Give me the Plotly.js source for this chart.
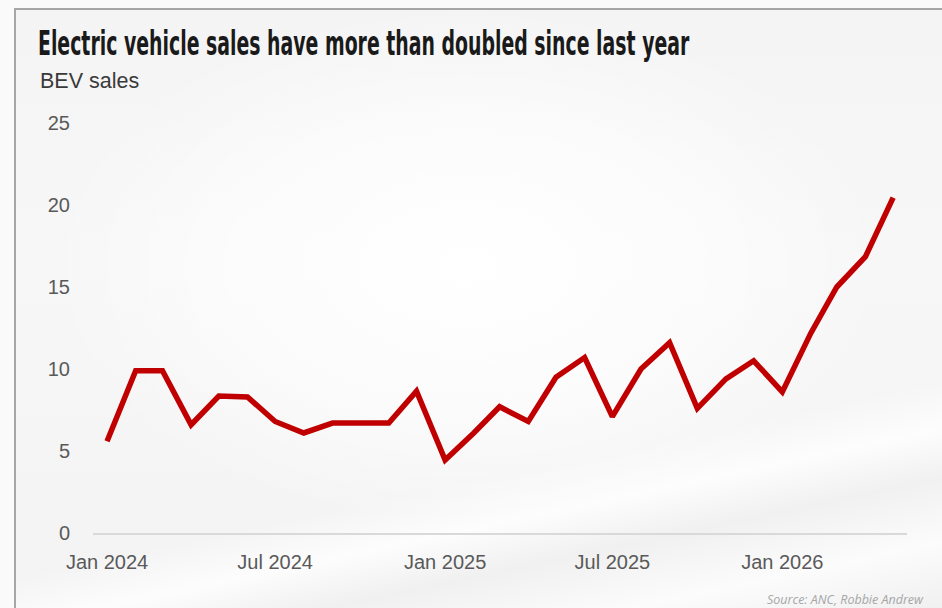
<!DOCTYPE html>
<html>
<head>
<meta charset="utf-8">
<script src="https://cdn.plot.ly/plotly-3.0.1.min.js"></script>
<style>
  html, body { margin: 0; padding: 0; background: #fafafa; }
  #wrap { position: relative; width: 942px; height: 608px; overflow: hidden; background: #fafafa; }
  #card {
    position: absolute; left: 14px; top: 8px; width: 940px; height: 610px;
    border-top: 2px solid #a6a6a6; border-left: 2px solid #a6a6a6;
    background:
      radial-gradient(ellipse 420px 260px at 48% 42%, rgba(255,255,255,1) 0%, rgba(255,255,255,0.6) 55%, rgba(255,255,255,0) 100%),
      linear-gradient(168deg, rgba(255,255,255,0) 70%, rgba(255,255,255,0.8) 76%, rgba(238,238,238,0.6) 82%, rgba(255,255,255,0.7) 90%, rgba(236,236,236,0.8) 100%),
      linear-gradient(180deg, #f4f4f4 0%, #f7f7f7 40%, #f3f3f3 100%);
  }
  #chart { position: absolute; left: 0; top: 0; width: 942px; height: 608px; }
</style>
</head>
<body>
<div id="wrap">
  <div id="card"></div>
  <div id="chart"></div>
</div>
<script>
// Data
const months = [
  "2024-01-01","2024-02-01","2024-03-01","2024-04-01","2024-05-01","2024-06-01",
  "2024-07-01","2024-08-01","2024-09-01","2024-10-01","2024-11-01","2024-12-01",
  "2025-01-01","2025-02-01","2025-03-01","2025-04-01","2025-05-01","2025-06-01",
  "2025-07-01","2025-08-01","2025-09-01","2025-10-01","2025-11-01","2025-12-01",
  "2026-01-01","2026-02-01","2026-03-01","2026-04-01","2026-05-01"
];
const bevSales = [
  5.6, 9.9, 9.9, 6.6, 8.35, 8.3,
  6.8, 6.1, 6.7, 6.7, 6.7, 8.65,
  4.45, 6.1, 7.7, 6.8, 9.5, 10.7,
  7.1, 10.0, 11.6, 7.6, 9.4, 10.5,
  8.6, 12.2, 15.0, 16.85, 20.45
];
const yTicks = [0, 5, 10, 15, 20, 25];
const xTicks = ["2024-01-01","2024-07-01","2025-01-01","2025-07-01","2026-01-01"];
const xTickLabels = ["Jan 2024","Jul 2024","Jan 2025","Jul 2025","Jan 2026"];

const titleText = "Electric vehicle sales have more than doubled since last year";
const subtitleText = "BEV sales";
const sourceText = "Source: ANC, Robbie Andrew";

const tickFont = { family: "Liberation Sans, Arial, sans-serif", size: 20, color: "#595959" };

const trace = {
  x: months,
  y: bevSales,
  type: "scatter",
  mode: "lines",
  line: { color: "#c00000", width: 5.5 },
  hoverinfo: "skip"
};

const layout = {
  width: 942,
  height: 608,
  margin: { l: 93, r: 35, t: 123, b: 75 },
  paper_bgcolor: "rgba(0,0,0,0)",
  plot_bgcolor: "rgba(0,0,0,0)",
  showlegend: false,
  title: {
    text: "<b>" + titleText + "</b>",
    font: { family: "Liberation Sans Narrow, DejaVu Sans Condensed, Liberation Sans, sans-serif", size: 34, color: "#1a1a1a" },
    xref: "container", yref: "container",
    x: 38 / 942, xanchor: "left",
    y: 1 - 43 / 608, yanchor: "middle"
  },
  xaxis: {
    type: "date",
    range: ["2023-12-16 19:00", "2026-05-16"],
    tickmode: "array",
    tickvals: xTicks,
    ticktext: xTickLabels,
    tickfont: tickFont,
    showgrid: false,
    zeroline: false,
    showline: true,
    linecolor: "#d9d9d9",
    linewidth: 2,
    ticks: "",
    ticklabelstandoff: 10,
    fixedrange: true
  },
  yaxis: {
    range: [0, 25],
    tickmode: "array",
    tickvals: yTicks,
    ticktext: yTicks.map(String),
    tickfont: tickFont,
    showgrid: false,
    zeroline: false,
    showline: false,
    ticks: "",
    ticklabelstandoff: 22,
    fixedrange: true
  },
  annotations: [
    {
      text: subtitleText,
      xref: "paper", yref: "paper",
      x: (38 - 93) / 814, xanchor: "left",
      y: (533 - 81) / 410, yanchor: "middle",
      showarrow: false,
      font: { family: "Liberation Sans, Arial, sans-serif", size: 21.5, color: "#3a3a3a" }
    },
    {
      text: "<i>" + sourceText + "</i>",
      xref: "paper", yref: "paper",
      x: (926 - 93) / 814, xanchor: "right",
      y: (533 - 599) / 410, yanchor: "middle",
      showarrow: false,
      font: { family: "Open Sans, DejaVu Sans, sans-serif", size: 12.5, color: "#a6a6a6" }
    }
  ]
};

Plotly.newPlot("chart", [trace], layout, { staticPlot: true, displayModeBar: false }).then(function (gd) {
  // compress the headline horizontally to match the condensed display face
  const t = gd.querySelector(".gtitle");
  if (t) {
    const bb = t.getBBox();
    const targetLeft = 38, targetWidth = 652;
    const s = targetWidth / bb.width;
    t.setAttribute("transform", "matrix(" + s + ",0,0,1," + (targetLeft - s * bb.x) + ",0)");
  }
});
</script>
</body>
</html>
